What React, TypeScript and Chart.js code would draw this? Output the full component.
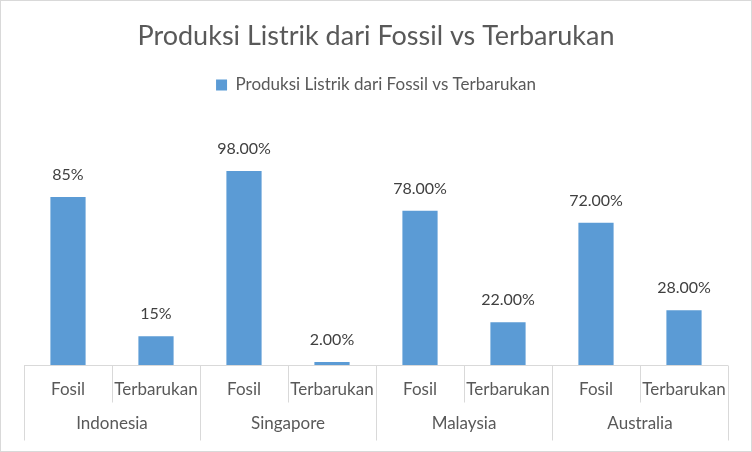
import React, { useEffect, useRef } from "react";
import { Chart, registerables } from "chart.js";

Chart.register(...registerables);

const TITLE = "Produksi Listrik dari Fossil vs Terbarukan";
const SERIES_NAME = "Produksi Listrik dari Fossil vs Terbarukan";
const countries = ["Indonesia", "Singapore", "Malaysia", "Australia"];
const subCategories = ["Fosil", "Terbarukan"];
const values = [85, 15, 98, 2, 78, 22, 72, 28];
const valueLabels = ["85%", "15%", "98.00%", "2.00%", "78.00%", "22.00%", "72.00%", "28.00%"];
const yMax = 132;

const FONT = "Lato, 'Open Sans', sans-serif";
const BAR_COLOR = "#5B9BD5";
const TEXT_COLOR = "#595959";
const LINE_COLOR = "#D9D9D9";

const categories: string[] = [];
countries.forEach(() => subCategories.forEach((s) => categories.push(s)));

const framePlugin = {
  id: "frame",
  beforeDraw(chart: any) {
    const { ctx, width, height } = chart;
    ctx.save();
    ctx.fillStyle = "#ffffff";
    ctx.fillRect(0, 0, width, height);
    ctx.strokeStyle = LINE_COLOR;
    ctx.lineWidth = 1;
    ctx.strokeRect(0.5, 0.5, width - 1, height - 1);
    ctx.restore();
  },
};

const multiAxisPlugin = {
  id: "multiAxis",
  afterDraw(chart: any) {
    const { ctx, chartArea } = chart;
    const xs = chart.scales.x;
    const n = categories.length;
    const step = xs.getPixelForValue(1) - xs.getPixelForValue(0);
    const base = Math.round(chartArea.bottom) - 0.5;
    ctx.save();
    ctx.strokeStyle = LINE_COLOR;
    ctx.lineWidth = 1;
    ctx.beginPath();
    ctx.moveTo(chartArea.left, base);
    ctx.lineTo(chartArea.right, base);
    ctx.stroke();
    for (let i = 0; i <= n; i++) {
      const x = Math.round(xs.getPixelForValue(i) - step / 2) + 0.5;
      const isGroup = i % subCategories.length === 0;
      ctx.beginPath();
      ctx.moveTo(x, base);
      ctx.lineTo(x, base + (isGroup ? 75 : 37));
      ctx.stroke();
    }
    ctx.fillStyle = TEXT_COLOR;
    ctx.textAlign = "center";
    ctx.textBaseline = "middle";
    ctx.font = `17px ${FONT}`;
    for (let i = 0; i < n; i++) {
      ctx.fillText(categories[i], xs.getPixelForValue(i), base + 24);
    }
    countries.forEach((c, g) => {
      const a = xs.getPixelForValue(g * subCategories.length);
      const b = xs.getPixelForValue(g * subCategories.length + subCategories.length - 1);
      ctx.fillText(c, (a + b) / 2, base + 58);
    });
    ctx.restore();
  },
};

const dataLabelPlugin = {
  id: "dataLabels",
  afterDatasetsDraw(chart: any) {
    const { ctx } = chart;
    const meta = chart.getDatasetMeta(0);
    ctx.save();
    ctx.fillStyle = "#404040";
    ctx.font = `16px ${FONT}`;
    ctx.textAlign = "center";
    ctx.textBaseline = "middle";
    meta.data.forEach((bar: any, i: number) => {
      ctx.fillText(valueLabels[i], bar.x, bar.y - 22);
    });
    ctx.restore();
  },
};

export default function App() {
  const ref = useRef<HTMLCanvasElement | null>(null);
  useEffect(() => {
    document.body.style.margin = "0";
    const chart = new Chart(ref.current as HTMLCanvasElement, {
      type: "bar",
      data: {
        labels: categories,
        datasets: [
          {
            label: SERIES_NAME,
            data: values,
            backgroundColor: BAR_COLOR,
            borderWidth: 0,
            categoryPercentage: 1,
            barPercentage: 0.4,
          },
        ],
      },
      options: {
        animation: false,
        responsive: false,
        layout: { padding: { left: 24, right: 24, top: 0, bottom: 0 } },
        plugins: {
          title: {
            display: true,
            text: TITLE,
            color: TEXT_COLOR,
            font: { family: FONT, size: 27, weight: "normal" },
            padding: { top: 20, bottom: 13 },
          },
          legend: {
            display: true,
            position: "top",
            labels: {
              color: TEXT_COLOR,
              font: { family: FONT, size: 17 },
              boxWidth: 11,
              boxHeight: 11,
              padding: 11,
            },
          },
          tooltip: { enabled: false },
        },
        scales: {
          x: {
            type: "category",
            offset: true,
            grid: { display: false },
            border: { display: false },
            ticks: { display: false },
            afterFit: (scale: any) => {
              scale.height = 86;
            },
          },
          y: {
            display: false,
            min: 0,
            max: yMax,
          },
        },
      },
      plugins: [framePlugin, multiAxisPlugin, dataLabelPlugin],
    });
    return () => chart.destroy();
  }, []);
  return <canvas ref={ref} width={752} height={452} style={{ display: "block" }} />;
}
